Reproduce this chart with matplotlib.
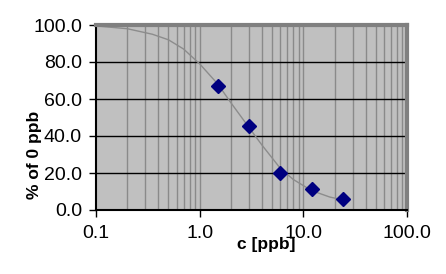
import matplotlib
matplotlib.use("Agg")
import matplotlib.pyplot as plt
from matplotlib.ticker import FixedLocator, NullFormatter

plt.rcParams['font.family'] = ['Liberation Sans', 'DejaVu Sans']

# messpunkte
conc = [1.5, 3.0, 6.0, 12.0, 24.0]
pct = [67.0, 45.5, 20.0, 11.5, 6.0]

# angepasste kurve
curve_x = [0.1, 0.2, 0.35, 0.5, 0.7, 1.0, 1.5, 2.0, 3.0, 4.0, 6.0, 8.0, 12.0, 18.0, 24.0]
curve_y = [99.5, 98.0, 95.0, 92.0, 87.0, 79.0, 68.0, 58.0, 44.5, 35.0, 22.5, 16.5, 10.5, 7.0, 5.5]

x_ticks = [0.1, 1.0, 10.0, 100.0]
x_labels = ["0.1", "1.0", "10.0", "100.0"]
y_ticks = [0, 20, 40, 60, 80, 100]
y_labels = ["0.0", "20.0", "40.0", "60.0", "80.0", "100.0"]

fig = plt.figure(figsize=(4.46, 2.74), dpi=100)
ax = fig.add_axes([96 / 446, 1 - 210 / 274, 311 / 446, 185 / 274])
ax.set_facecolor('#c0c0c0')

ax.set_xscale('log')
ax.set_xlim(0.1, 100)
ax.set_ylim(0, 100)

minors = [m * 10.0 ** e for e in (-1, 0, 1) for m in range(2, 10)]
ax.xaxis.set_minor_locator(FixedLocator(minors))
ax.xaxis.set_minor_formatter(NullFormatter())
ax.set_xticks(x_ticks)
ax.set_xticklabels(x_labels)
ax.set_yticks(y_ticks)
ax.set_yticklabels(y_labels)

for v in minors + [1.0, 10.0]:
    ax.axvline(v, color='#8a8a8a', lw=1.0, zorder=1)
for v in [20, 40, 60, 80]:
    ax.axhline(v, color='black', lw=1.0, zorder=1)

ax.plot(curve_x, curve_y, color='#8c8c8c', lw=1.0, zorder=2)
ax.plot(conc, pct, linestyle='none', marker='D', color='#000080',
        markersize=7.5, zorder=3)

for s in ['left', 'bottom']:
    ax.spines[s].set_color('black')
    ax.spines[s].set_linewidth(1.5)
for s in ['top', 'right']:
    ax.spines[s].set_color('#808080')
    ax.spines[s].set_linewidth(3.0)

ax.tick_params(axis='both', which='major', direction='out', length=5,
               width=1.0, labelsize=14, colors='black')
ax.tick_params(axis='x', which='minor', length=0)
ax.tick_params(axis='x', pad=6)
ax.tick_params(axis='y', pad=5)

fig.text(266 / 446, 1 - 245 / 274, "c [ppb]", fontsize=12.5, fontweight='bold',
         ha='center', va='center')
fig.text(35 / 446, 1 - 155 / 274, "% of 0 ppb", fontsize=12.5, fontweight='bold',
         ha='center', va='center', rotation=90)

fig.savefig("out.png", dpi=100)
